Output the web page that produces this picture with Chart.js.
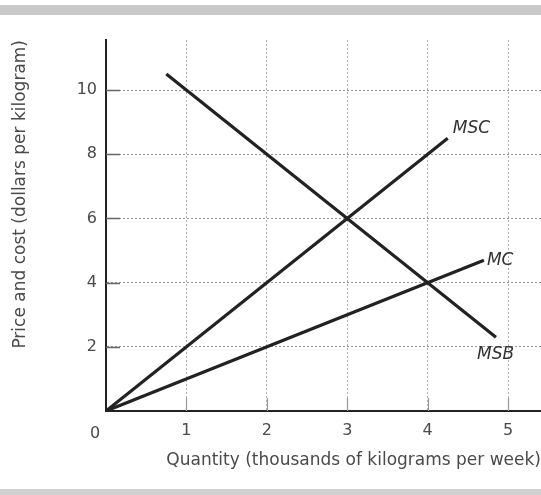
<!DOCTYPE html>
<html>
<head>
<meta charset="utf-8">
<script src="https://cdn.jsdelivr.net/npm/chart.js@4.4.1/dist/chart.umd.min.js"></script>
<style>
  html, body { margin: 0; padding: 0; background: #fff; }
  #wrap { position: relative; width: 541px; height: 495px; overflow: hidden; }
  #c { position: absolute; left: 0; top: 0; }
  .band { position: absolute; left: 0; width: 541px; background: #c9c9c9; }
</style>
</head>
<body>
<div id="wrap">
  <canvas id="c" width="541" height="495"></canvas>
  <div class="band" style="top:5px;height:10px;"></div>
  <div class="band" style="top:489px;height:6px;background:#d0d0d0;"></div>
</div>
<script>
// ---- data ----
const xTickValues = [0, 1, 2, 3, 4, 5];
const yTickValues = [2, 4, 6, 8, 10];
const msbX = [0.75, 4.85];
const msbY = [10.5, 2.3];
const mscX = [0, 4.25];
const mscY = [0, 8.5];
const mcX = [0, 4.7];
const mcY = [0, 4.7];
const curveNames = ['MSB', 'MSC', 'MC'];
const xTitle = 'Quantity (thousands of kilograms per week)';
const yTitle = 'Price and cost (dollars per kilogram)';
const originLabel = '0';

const toPts = (xs, ys) => xs.map((x, i) => ({ x: x, y: ys[i] }));

const FONT = "'DejaVu Sans', sans-serif";
const TEXT = '#4a4a4a';
const LINE = '#222';

const curveLabelPlugin = {
  id: 'curveLabels',
  beforeDatasetsDraw(chart) {
    const { ctx, scales: { x, y }, chartArea } = chart;
    ctx.save();
    ctx.strokeStyle = '#999';
    ctx.lineWidth = 1.2;
    ctx.beginPath();
    xTickValues.forEach(v => {
      if (v === 0) return;
      const px = Math.round(x.getPixelForValue(v)) + 0.5;
      ctx.moveTo(px, chartArea.bottom);
      ctx.lineTo(px, chartArea.bottom - 13);
    });
    ctx.stroke();
    ctx.strokeStyle = '#666';
    ctx.lineWidth = 1.6;
    ctx.beginPath();
    yTickValues.forEach(v => {
      const py = Math.round(y.getPixelForValue(v)) + 0.5;
      ctx.moveTo(chartArea.left, py);
      ctx.lineTo(chartArea.left + 14, py);
    });
    ctx.stroke();
    ctx.restore();
  },
  afterDatasetsDraw(chart) {
    const { ctx, scales: { x, y } } = chart;
    ctx.save();
    ctx.fillStyle = '#333';
    ctx.font = 'italic 17px ' + FONT;
    ctx.textBaseline = 'middle';
    ctx.textAlign = 'left';
    ctx.fillText(curveNames[1], x.getPixelForValue(mscX[1]) + 5, y.getPixelForValue(mscY[1]) - 10);
    ctx.fillText(curveNames[2], x.getPixelForValue(mcX[1]) + 3, y.getPixelForValue(mcY[1]) + 0);
    ctx.fillText(curveNames[0], x.getPixelForValue(msbX[1]) - 19, y.getPixelForValue(msbY[1]) + 17);
    ctx.fillStyle = TEXT;
    ctx.font = '16px ' + FONT;
    ctx.textAlign = 'center';
    ctx.fillText(originLabel, x.getPixelForValue(0) - 11, y.getPixelForValue(0) + 23);
    ctx.restore();
  }
};

const lineDs = (label, xs, ys) => ({
  label: label,
  data: toPts(xs, ys),
  borderColor: LINE,
  borderWidth: 3.2,
  pointRadius: 0,
  fill: false,
  tension: 0,
  borderCapStyle: 'butt'
});

new Chart(document.getElementById('c'), {
  type: 'line',
  data: {
    datasets: [
      lineDs(curveNames[0], msbX, msbY),
      lineDs(curveNames[1], mscX, mscY),
      lineDs(curveNames[2], mcX, mcY)
    ]
  },
  options: {
    responsive: false,
    animation: false,
    devicePixelRatio: 1,
    layout: { padding: { top: 40, right: 0, left: 0, bottom: 0 } },
    plugins: { legend: { display: false }, tooltip: { enabled: false } },
    scales: {
      x: {
        type: 'linear',
        min: 0,
        max: 5.41,
        afterBuildTicks: s => { s.ticks = xTickValues.map(v => ({ value: v })); },
        afterFit: s => { s.height = 84; },
        grid: {
          color: ctx => ctx.tick && ctx.tick.value === 0 ? 'rgba(0,0,0,0)' : '#b4b4b4',
          lineWidth: 1,
          drawTicks: false
        },
        border: { color: LINE, width: 2, dash: [2, 2] },
        ticks: {
          padding: 10,
          color: TEXT,
          font: { family: FONT, size: 16 },
          callback: v => (v === 0 ? '' : String(v))
        },
        title: {
          display: true,
          text: xTitle,
          align: 'end',
          color: TEXT,
          font: { family: FONT, size: 17 },
          padding: { top: 0, bottom: 24 }
        }
      },
      y: {
        type: 'linear',
        min: 0,
        max: 11.56,
        afterBuildTicks: s => { s.ticks = yTickValues.map(v => ({ value: v })); },
        afterFit: s => { s.width = 106; },
        grid: {
          color: '#999',
          lineWidth: 1,
          drawTicks: false
        },
        border: { color: LINE, width: 2, dash: [2, 2] },
        ticks: {
          padding: 9,
          color: TEXT,
          font: { family: FONT, size: 16 },
          callback: v => String(v)
        },
        title: {
          display: true,
          text: yTitle,
          align: 'end',
          color: TEXT,
          font: { family: FONT, size: 17 },
          padding: { top: 10, bottom: 0 }
        }
      }
    }
  },
  plugins: [curveLabelPlugin]
});
</script>
</body>
</html>
